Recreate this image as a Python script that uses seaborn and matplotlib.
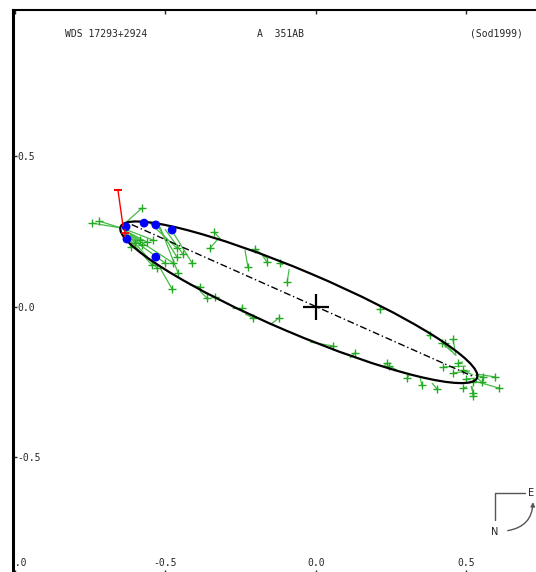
import matplotlib
matplotlib.use("Agg")
import matplotlib.pyplot as plt
import pandas as pd
import seaborn as sns
from matplotlib.patches import Ellipse
from matplotlib.collections import LineCollection

# observed positions (arcsec)
obs_x = [-0.744, -0.721, -0.578, -0.585, -0.561, -0.542, -0.601, -0.615, -0.578, -0.462,
         -0.462, -0.412, -0.458, -0.475, -0.502, -0.545, -0.528, -0.478, -0.442, -0.339,
         -0.352, -0.385, -0.336, -0.362, -0.246, -0.226, -0.203, -0.163, -0.120, -0.096,
         -0.209, -0.123, 0.056, 0.130, 0.213, 0.236, 0.243, 0.302, 0.352, 0.402,
         0.379, 0.419, 0.429, 0.455, 0.472, 0.422, 0.455, 0.488, 0.498, 0.522,
         0.551, 0.555, 0.595, 0.608, 0.522, 0.522, 0.488]
obs_y = [0.277, 0.284, 0.327, 0.221, 0.214, 0.221, 0.211, 0.198, 0.204, 0.194,
         0.164, 0.145, 0.111, 0.145, 0.145, 0.138, 0.128, 0.058, 0.174, 0.248,
         0.194, 0.065, 0.032, 0.028, -0.005, 0.131, 0.191, 0.148, 0.145, 0.081,
         -0.038, -0.038, -0.131, -0.154, -0.008, -0.188, -0.198, -0.238, -0.261, -0.274,
         -0.095, -0.121, -0.121, -0.108, -0.188, -0.201, -0.221, -0.211, -0.241, -0.251,
         -0.251, -0.234, -0.234, -0.271, -0.287, -0.297, -0.271]
# computed positions on the orbit for the same dates
calc_x = [-0.648, -0.648, -0.641, -0.638, -0.638, -0.635, -0.638, -0.635, -0.631, -0.551,
          -0.525, -0.478, -0.518, -0.618, -0.625, -0.625, -0.611, -0.518, -0.502, -0.312,
          -0.326, -0.419, -0.369, -0.385, -0.279, -0.236, -0.159, -0.179, -0.110, -0.089,
          -0.236, -0.153, -0.020, 0.113, 0.213, 0.223, 0.269, 0.312, 0.346, 0.385,
          0.372, 0.452, 0.462, 0.465, 0.488, 0.498, 0.512, 0.522, 0.528, 0.532,
          0.532, 0.528, 0.532, 0.528, 0.515, 0.518, 0.502]
calc_y = [0.261, 0.261, 0.271, 0.254, 0.254, 0.257, 0.248, 0.241, 0.244, 0.277,
          0.267, 0.251, 0.264, 0.238, 0.234, 0.228, 0.221, 0.128, 0.257, 0.218,
          0.224, 0.071, 0.045, 0.051, -0.005, 0.188, 0.158, 0.171, 0.138, 0.124,
          -0.025, -0.061, -0.118, -0.171, -0.022, -0.201, -0.211, -0.224, -0.238, -0.254,
          -0.098, -0.151, -0.161, -0.164, -0.184, -0.198, -0.214, -0.228, -0.238, -0.244,
          -0.234, -0.228, -0.224, -0.248, -0.264, -0.264, -0.267]

# high weight measures
dot_x = [-0.631, -0.571, -0.532, -0.478, -0.532, -0.628]
dot_y = [0.265, 0.277, 0.271, 0.254, 0.164, 0.224]

# apparent orbit and line of nodes
orbit_center = (-0.057, 0.014)
orbit_major = 1.286
orbit_minor = 0.206
orbit_angle = -23.0
node_x = [-0.612, 0.523]
node_y = [0.272, -0.233]

# periastron marker
peri_x = [-0.641, -0.658]
peri_y = [0.267, 0.387]
mark_x = [-0.635]
mark_y = [0.244]

xticks = [-1.0, -0.5, 0.0, 0.5]
yticks = [-0.5, 0.0, 0.5]

sns.set_style("white")
plt.rcParams["font.family"] = ["DejaVu Sans Mono"]
plt.rcParams["axes.unicode_minus"] = False

df = pd.DataFrame({"x": obs_x, "y": obs_y, "cx": calc_x, "cy": calc_y})

fig = plt.figure(figsize=(5.36, 5.72), dpi=100)
ax = fig.add_axes([13 / 536, -0.0042, 528.75 / 536, 0.98671])
ax.set_xlim(-1.0066, 0.75)
ax.set_ylim(-0.89, 0.985)

# O-C lines
segs = [[(a, b), (c, d)] for a, b, c, d in zip(df.x, df.y, df.cx, df.cy)]
ax.add_collection(LineCollection(segs, colors="#44bb44", linewidths=0.9, zorder=2))
sns.scatterplot(data=df, x="x", y="y", marker="+", color="#22aa22", s=40,
                linewidth=1.0, ax=ax, zorder=3)

ax.add_patch(Ellipse(orbit_center, orbit_major, orbit_minor, angle=orbit_angle,
                     fill=False, edgecolor="black", linewidth=1.6, zorder=4))
ax.plot(node_x, node_y, color="black", linewidth=1.0, linestyle=(0, (5, 2, 1, 2)), zorder=4)

sns.scatterplot(x=dot_x, y=dot_y, color="#0000ff", s=40, edgecolor="none", ax=ax, zorder=5)

ax.plot(peri_x, peri_y, color="red", linewidth=1.0, zorder=5)
ax.plot(peri_x[1:], peri_y[1:], marker="_", color="red", markersize=6, mew=1.5, zorder=5)
ax.plot(mark_x, mark_y, marker="+", color="red", markersize=6, mew=1.2, zorder=6)

# primary
ax.plot([0], [0], marker="+", color="black", markersize=19, mew=1.6, zorder=6)

ax.set_xticks(xticks)
ax.set_yticks(yticks)
ax.set_xticklabels([f"{v:.1f}" for v in xticks])
ax.set_yticklabels([f"{v:.1f}" for v in yticks])
ax.tick_params(axis="x", direction="in", top=True, bottom=True, length=3, width=1,
               labelsize=7, pad=-12)
ax.tick_params(axis="y", direction="in", left=True, right=False, length=3, width=1,
               labelsize=7, pad=-3)
plt.setp(ax.get_yticklabels(), ha="left")
for lbl in ax.get_xticklabels():
    lbl.set_clip_box(ax.bbox)
    lbl.set_clip_on(True)
ax.set_xlabel("")
ax.set_ylabel("")

for side in ["left", "top", "right", "bottom"]:
    ax.spines[side].set_color("black")
ax.spines["left"].set_linewidth(2.2)
ax.spines["top"].set_linewidth(1.5)

ax.text(0.0983, 0.9575, "WDS 17293+2924", transform=ax.transAxes, fontsize=7, va="center")
ax.text(0.4615, 0.9575, "A  351AB", transform=ax.transAxes, fontsize=7, va="center")
ax.text(0.9645, 0.9575, "(Sod1999)", transform=ax.transAxes, fontsize=7, va="center", ha="right")

# orientation sign
gray = "#555555"
ax.plot([0.9116, 0.9116, 0.9683], [0.0964, 0.1448, 0.1448], color=gray, linewidth=1.0,
        transform=ax.transAxes)
ax.text(0.9116, 0.0757, "N", transform=ax.transAxes, fontsize=7, ha="center", va="center",
        color="#222222", family="DejaVu Sans")
ax.text(0.9740, 0.1448, "E", transform=ax.transAxes, fontsize=7, ha="left", va="center",
        color="#222222", family="DejaVu Sans")
ax.annotate("", xy=(0.9835, 0.1330), xytext=(0.9305, 0.0769), xycoords="axes fraction",
            arrowprops=dict(arrowstyle="-|>", color=gray, lw=1.0, mutation_scale=6,
                            connectionstyle="arc3,rad=0.45"))

fig.savefig("out.png", dpi=100)
